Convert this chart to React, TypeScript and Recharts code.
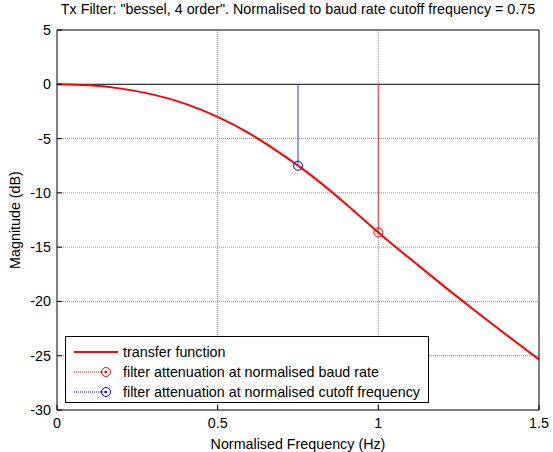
import { ComposedChart, Line, XAxis, YAxis, CartesianGrid, ReferenceLine } from 'recharts'

const freq = [0, 0.1, 0.2, 0.3, 0.4, 0.5, 0.6, 0.7, 0.75, 0.8, 0.9, 1.0, 1.1, 1.2, 1.3, 1.4, 1.5]
const magnitude = [0, -0.1, -0.4, -0.95, -1.8, -3.0, -4.55, -6.45, -7.5, -8.6, -11.05, -13.65, -16.1, -18.5, -20.83, -23.11, -25.35]

const cutoffFreq = 0.75
const cutoffAtten = -7.5
const baudFreq = 1.0
const baudAtten = -13.65

const xTicks = [0, 0.5, 1, 1.5]
const yTicks = [-30, -25, -20, -15, -10, -5, 0, 5]

const title = 'Tx Filter: "bessel, 4 order". Normalised to baud rate cutoff frequency = 0.75'
const legendLabels = [
  'transfer function',
  'filter attenuation at normalised baud rate',
  'filter attenuation at normalised cutoff frequency',
]

const curve = freq.map((f, i) => ({ f, v: magnitude[i] }))
const cutoffStem = [{ f: cutoffFreq, v: 0 }, { f: cutoffFreq, v: cutoffAtten }]
const baudStem = [{ f: baudFreq, v: 0 }, { f: baudFreq, v: baudAtten }]

const FONT = 'Arial, "Liberation Sans", sans-serif'
const FS = 14.3

function BottomTick({ x, y, payload }: any) {
  return (
    <g>
      <line x1={x} y1={y} x2={x} y2={y - 5} stroke="#000" />
      <text x={x} y={y + 18} textAnchor="middle" fontSize={FS} fontFamily={FONT} fill="#000">
        {payload.value}
      </text>
    </g>
  )
}

function LeftTick({ x, y, payload }: any) {
  return (
    <g>
      <line x1={x} y1={y} x2={x + 5} y2={y} stroke="#000" />
      <text x={x - 6} y={y + 5} textAnchor="end" fontSize={FS} fontFamily={FONT} fill="#000">
        {payload.value}
      </text>
    </g>
  )
}

function TopTick({ x, y }: any) {
  return <line x1={x} y1={y} x2={x} y2={y + 5} stroke="#000" />
}

function RightTick({ x, y }: any) {
  return <line x1={x} y1={y} x2={x - 5} y2={y} stroke="#000" />
}

function stemDot(color: string) {
  return (props: any) => {
    const { cx, cy, index } = props
    if (index !== 1) return <g key={index} />
    return <circle key={index} cx={cx} cy={cy} r={4.5} fill="none" stroke={color} strokeWidth={1} />
  }
}

function LegendIcon({ color, marker, solid }: { color: string; marker: boolean; solid: boolean }) {
  return (
    <svg width={46} height={12} style={{ display: 'block' }}>
      {solid ? (
        <line x1={1} y1={6} x2={45} y2={6} stroke={color} strokeWidth={2} />
      ) : (
        <line x1={1} y1={6} x2={33} y2={6} stroke={color} strokeWidth={1} strokeDasharray="1 1" />
      )}
      {marker && (
        <g>
          <circle cx={33} cy={6} r={4.5} fill="none" stroke={color} />
          <circle cx={33} cy={6} r={1.2} fill={color} />
        </g>
      )}
    </svg>
  )
}

export default function App() {
  const legendItems = [
    { label: legendLabels[0], color: '#ff0000', marker: false, solid: true },
    { label: legendLabels[1], color: '#ff0000', marker: true, solid: false },
    { label: legendLabels[2], color: '#0000ff', marker: true, solid: false },
  ]
  return (
    <div style={{ position: 'absolute', left: 0, top: 0, width: 553, height: 452, background: '#fff' }}>
      <ComposedChart width={553} height={452} margin={{ top: 0, right: 0, bottom: 0, left: 0 }}>
        <CartesianGrid
          xAxisId="bottom"
          yAxisId="left"
          stroke="#888"
          strokeDasharray="1 1"
          horizontalValues={[-25, -20, -15, -10, -5]}
          verticalValues={[0.5, 1]}
        />
        <XAxis
          xAxisId="bottom"
          dataKey="f"
          type="number"
          domain={[0, 1.5]}
          ticks={xTicks}
          height={42}
          stroke="#000"
          tickSize={0}
          tickMargin={0}
          tick={<BottomTick />}
          allowDataOverflow
          label={{ value: 'Normalised Frequency (Hz)', position: 'insideBottom', offset: 3, fontSize: FS, fontFamily: FONT, fill: '#000' }}
        />
        <XAxis
          xAxisId="top"
          orientation="top"
          dataKey="f"
          type="number"
          domain={[0, 1.5]}
          ticks={xTicks}
          height={30}
          stroke="#000"
          tickSize={0}
          tickMargin={0}
          tick={<TopTick />}
          label={{ value: title, position: 'insideTop', offset: 4, fontSize: FS, fontFamily: FONT, fill: '#000' }}
        />
        <YAxis
          yAxisId="left"
          type="number"
          domain={[-30, 5]}
          ticks={yTicks}
          width={57}
          stroke="#000"
          tickSize={0}
          tickMargin={0}
          tick={<LeftTick />}
          allowDataOverflow
          label={{ value: 'Magnitude (dB)', angle: -90, position: 'insideLeft', offset: 15, fontSize: FS, fontFamily: FONT, fill: '#000', style: { textAnchor: 'middle' } }}
        />
        <YAxis
          yAxisId="right"
          orientation="right"
          type="number"
          domain={[-30, 5]}
          ticks={yTicks}
          width={14}
          stroke="#000"
          tickSize={0}
          tickMargin={0}
          tick={<RightTick />}
        />
        <ReferenceLine xAxisId="bottom" yAxisId="left" y={0} stroke="#000" strokeWidth={1} />
        <Line
          xAxisId="bottom"
          yAxisId="left"
          data={baudStem}
          dataKey="v"
          stroke="#ff3333"
          strokeWidth={1}
          dot={stemDot('#ff0000')}
          isAnimationActive={false}
        />
        <Line
          xAxisId="bottom"
          yAxisId="left"
          data={cutoffStem}
          dataKey="v"
          stroke="#3333ff"
          strokeWidth={1}
          dot={stemDot('#0000ff')}
          isAnimationActive={false}
        />
        <Line
          xAxisId="bottom"
          yAxisId="left"
          data={curve}
          dataKey="v"
          type="natural"
          stroke="#ff0000"
          strokeWidth={2}
          dot={false}
          isAnimationActive={false}
        />
      </ComposedChart>
      <div
        style={{
          position: 'absolute',
          left: 65,
          top: 336,
          width: 364,
          height: 67,
          border: '1px solid #000',
          background: '#fff',
          fontFamily: FONT,
          fontSize: FS,
          paddingTop: 5,
          boxSizing: 'border-box',
        }}
      >
        {legendItems.map((it) => (
          <div key={it.label} style={{ display: 'flex', alignItems: 'center', height: 20, paddingLeft: 7 }}>
            <LegendIcon color={it.color} marker={it.marker} solid={it.solid} />
            <span style={{ marginLeft: 4, whiteSpace: 'nowrap' }}>{it.label}</span>
          </div>
        ))}
      </div>
    </div>
  )
}
